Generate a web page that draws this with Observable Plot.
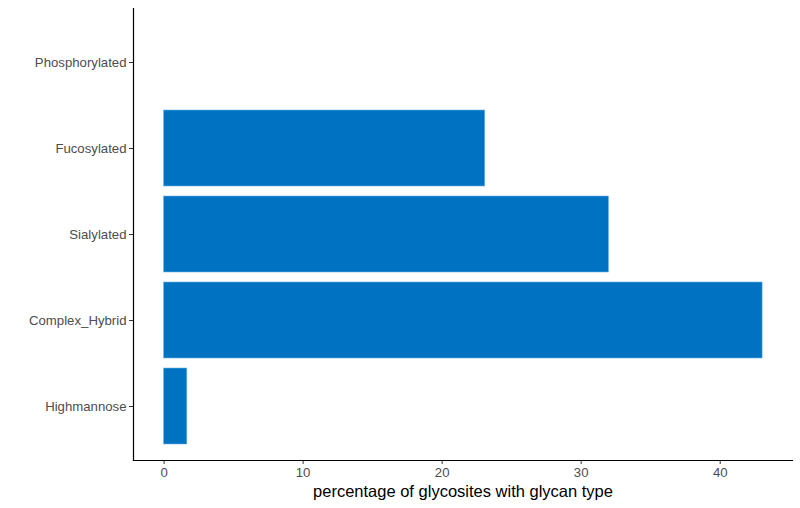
<!DOCTYPE html>
<html><head><meta charset="utf-8">
<script src="https://cdn.jsdelivr.net/npm/d3@7"></script>
<script src="https://cdn.jsdelivr.net/npm/@observablehq/plot@0.6"></script>
<style>body{margin:0;background:#fff;font-family:"Liberation Sans",Arial,sans-serif}</style>
</head><body><div id="chart"></div>
<script>
const categories = ["Phosphorylated", "Fucosylated", "Sialylated", "Complex_Hybrid", "Highmannose"];
const values = [0, 23.1, 32.0, 43.05, 1.67];
const xTicks = [0, 10, 20, 30, 40];
const data = categories.map((c, i) => ({type: c, pct: values[i]}));
const xDomain = [-2.2, 45.2];

const chart = Plot.plot({
  width: 800, height: 508,
  marginLeft: 133, marginRight: 8, marginTop: 8, marginBottom: 48,
  style: {fontFamily: '"Liberation Sans",Arial,sans-serif', background: "#fff"},
  x: {domain: xDomain, ticks: xTicks},
  y: {domain: categories, paddingInner: 0.12, paddingOuter: 0.16},
  marks: [
    Plot.barX(data, {y: "type", x: "pct", fill: "#0072C2", stroke: "#6fb3e8", strokeWidth: 0.6}),
    Plot.axisX({ticks: xTicks, tickSize: 4, tickPadding: 3, fontSize: 13.2, color: "#4d4d4d", stroke: "#333", label: null}),
    Plot.axisY({tickSize: 4, tickPadding: 3, fontSize: 13.2, color: "#4d4d4d", stroke: "#333", label: null}),
    Plot.frame({anchor: "left", stroke: "#000", strokeWidth: 1.2}),
    Plot.frame({anchor: "bottom", stroke: "#000", strokeWidth: 1.2}),
    Plot.text(["percentage of glycosites with glycan type"], {frameAnchor: "bottom", dy: 36, fontSize: 16.5, fill: "#000"})
  ]
});
document.getElementById("chart").appendChild(chart);
</script></body></html>
